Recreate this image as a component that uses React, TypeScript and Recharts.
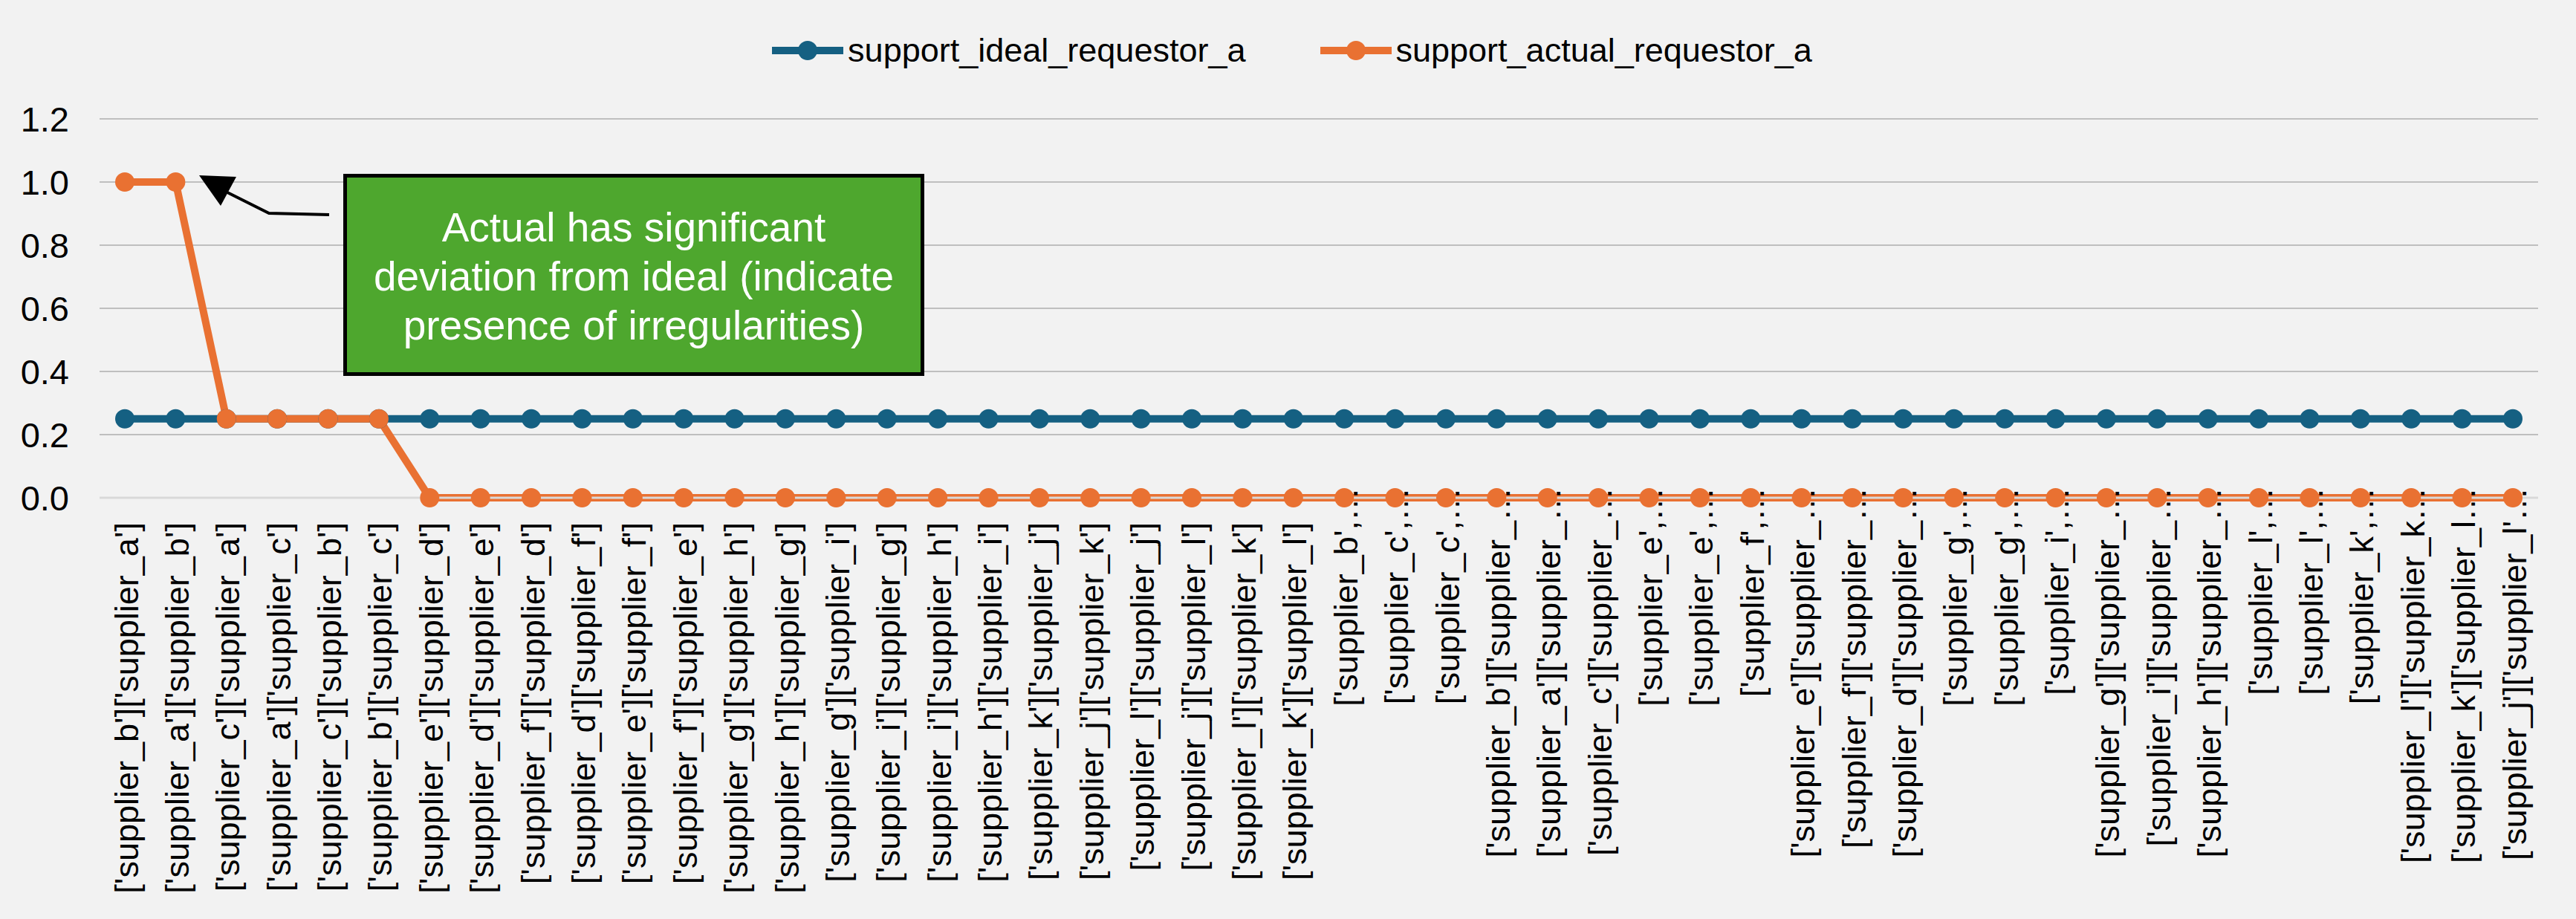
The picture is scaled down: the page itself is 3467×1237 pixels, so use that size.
import { LineChart, Line, XAxis, YAxis, CartesianGrid, Legend } from "recharts";

const categories = [
  "['supplier_b']['supplier_a']",
  "['supplier_a']['supplier_b']",
  "['supplier_c']['supplier_a']",
  "['supplier_a']['supplier_c']",
  "['supplier_c']['supplier_b']",
  "['supplier_b']['supplier_c']",
  "['supplier_e']['supplier_d']",
  "['supplier_d']['supplier_e']",
  "['supplier_f']['supplier_d']",
  "['supplier_d']['supplier_f']",
  "['supplier_e']['supplier_f']",
  "['supplier_f']['supplier_e']",
  "['supplier_g']['supplier_h']",
  "['supplier_h']['supplier_g']",
  "['supplier_g']['supplier_i']",
  "['supplier_i']['supplier_g']",
  "['supplier_i']['supplier_h']",
  "['supplier_h']['supplier_i']",
  "['supplier_k']['supplier_j']",
  "['supplier_j']['supplier_k']",
  "['supplier_l']['supplier_j']",
  "['supplier_j']['supplier_l']",
  "['supplier_l']['supplier_k']",
  "['supplier_k']['supplier_l']",
  "['supplier_b',…",
  "['supplier_c',…",
  "['supplier_c',…",
  "['supplier_b']['supplier_…",
  "['supplier_a']['supplier_…",
  "['supplier_c']['supplier_…",
  "['supplier_e',…",
  "['supplier_e',…",
  "['supplier_f',…",
  "['supplier_e']['supplier_…",
  "['supplier_f']['supplier_…",
  "['supplier_d']['supplier_…",
  "['supplier_g',…",
  "['supplier_g',…",
  "['supplier_i',…",
  "['supplier_g']['supplier_…",
  "['supplier_i']['supplier_…",
  "['supplier_h']['supplier_…",
  "['supplier_l',…",
  "['supplier_l',…",
  "['supplier_k',…",
  "['supplier_l']['supplier_k…",
  "['supplier_k']['supplier_l…",
  "['supplier_j']['supplier_l'…",
];

const idealValues = [
  0.25, 0.25, 0.25, 0.25, 0.25, 0.25, 0.25, 0.25, 0.25, 0.25, 0.25, 0.25,
  0.25, 0.25, 0.25, 0.25, 0.25, 0.25, 0.25, 0.25, 0.25, 0.25, 0.25, 0.25,
  0.25, 0.25, 0.25, 0.25, 0.25, 0.25, 0.25, 0.25, 0.25, 0.25, 0.25, 0.25,
  0.25, 0.25, 0.25, 0.25, 0.25, 0.25, 0.25, 0.25, 0.25, 0.25, 0.25, 0.25,
];

const actualValues = [
  1, 1, 0.25, 0.25, 0.25, 0.25, 0, 0, 0, 0, 0, 0,
  0, 0, 0, 0, 0, 0, 0, 0, 0, 0, 0, 0,
  0, 0, 0, 0, 0, 0, 0, 0, 0, 0, 0, 0,
  0, 0, 0, 0, 0, 0, 0, 0, 0, 0, 0, 0,
];

const yTicks = [0, 0.2, 0.4, 0.6, 0.8, 1.0, 1.2];

const seriesNames = ["support_ideal_requestor_a", "support_actual_requestor_a"];
const BLUE = "#156082";
const ORANGE = "#E97132";
const FONT = "'Liberation Sans', Arial, sans-serif";

const data = categories.map((name, i) => ({
  name,
  ideal: idealValues[i],
  actual: actualValues[i],
}));

// truncated labels sit a bit higher, like the Excel original
const XTick = ({ x, y, payload }: any) => {
  const label: string = payload.value;
  const end = label.endsWith("…") ? y - 14 : y + 33;
  return (
    <text
      x={x}
      y={end}
      dy="0.39em"
      transform={`rotate(-90, ${x}, ${end})`}
      textAnchor="end"
      fontSize={45}
      fontFamily={FONT}
      fill="#000"
    >
      {label}
    </text>
  );
};

const LegendContent = () => {
  const items = [
    { name: seriesNames[0], color: BLUE },
    { name: seriesNames[1], color: ORANGE },
  ];
  return (
    <div
      style={{
        height: 160,
        boxSizing: "border-box",
        paddingTop: 42,
        paddingLeft: 62,
        display: "flex",
        justifyContent: "center",
        alignItems: "flex-start",
        gap: 100,
      }}
    >
      {items.map((it) => (
        <div key={it.name} style={{ display: "flex", alignItems: "center", height: 52 }}>
          <svg width={96} height={30} style={{ marginRight: 6 }}>
            <line x1={0} y1={15} x2={96} y2={15} stroke={it.color} strokeWidth={10} strokeLinecap="round" />
            <circle cx={48} cy={15} r={13} fill={it.color} />
          </svg>
          <span style={{ fontSize: 45, fontFamily: FONT, color: "#000", lineHeight: "52px" }}>
            {it.name}
          </span>
        </div>
      ))}
    </div>
  );
};

export default function App() {
  return (
    <div
      style={{
        position: "absolute",
        left: 0,
        top: 0,
        width: 3467,
        height: 1237,
        background: "#F2F2F2",
      }}
    >
      <LineChart
        width={3467}
        height={1237}
        data={data}
        margin={{ top: 0, right: 51, bottom: 0, left: 0 }}
      >
        <CartesianGrid vertical={false} stroke="#BFBFBF" strokeWidth={2} />
        <XAxis
          dataKey="name"
          interval={0}
          height={567}
          padding={{ left: 34, right: 34 }}
          tick={<XTick />}
          tickLine={false}
          tickSize={0}
          tickMargin={0}
          axisLine={{ stroke: "#D9D9D9", strokeWidth: 3 }}
        />
        <YAxis
          domain={[0, 1.2]}
          ticks={yTicks}
          tickFormatter={(v: number) => v.toFixed(1)}
          width={134}
          axisLine={false}
          tickLine={false}
          tickSize={0}
          tickMargin={41}
          tick={{ fontSize: 47, fontFamily: FONT, fill: "#000" }}
        />
        <Legend verticalAlign="top" content={<LegendContent />} />
        <Line
          type="linear"
          dataKey="ideal"
          name={seriesNames[0]}
          stroke={BLUE}
          strokeWidth={10}
          dot={{ r: 13, fill: BLUE, stroke: BLUE, strokeWidth: 0 }}
          isAnimationActive={false}
        />
        <Line
          type="linear"
          dataKey="actual"
          name={seriesNames[1]}
          stroke={ORANGE}
          strokeWidth={10}
          dot={{ r: 13, fill: ORANGE, stroke: ORANGE, strokeWidth: 0 }}
          isAnimationActive={false}
        />
      </LineChart>

      <svg
        width={3467}
        height={1237}
        style={{ position: "absolute", left: 0, top: 0, pointerEvents: "none" }}
      >
        <polyline
          points="443,289 362,287 306,259"
          fill="none"
          stroke="#000"
          strokeWidth={4}
        />
        <polygon points="268,236 318,238 297,277" fill="#000" />
      </svg>

      <div
        style={{
          position: "absolute",
          left: 462,
          top: 234,
          width: 782,
          height: 272,
          boxSizing: "border-box",
          background: "#4EA72E",
          border: "5px solid #000",
          color: "#fff",
          fontFamily: FONT,
          fontSize: 55,
          lineHeight: "66px",
          textAlign: "center",
          display: "flex",
          alignItems: "center",
          justifyContent: "center",
          paddingTop: 4,
        }}
      >
        <div>
          Actual has significant
          <br />
          deviation from ideal (indicate
          <br />
          presence of irregularities)
        </div>
      </div>
    </div>
  );
}
